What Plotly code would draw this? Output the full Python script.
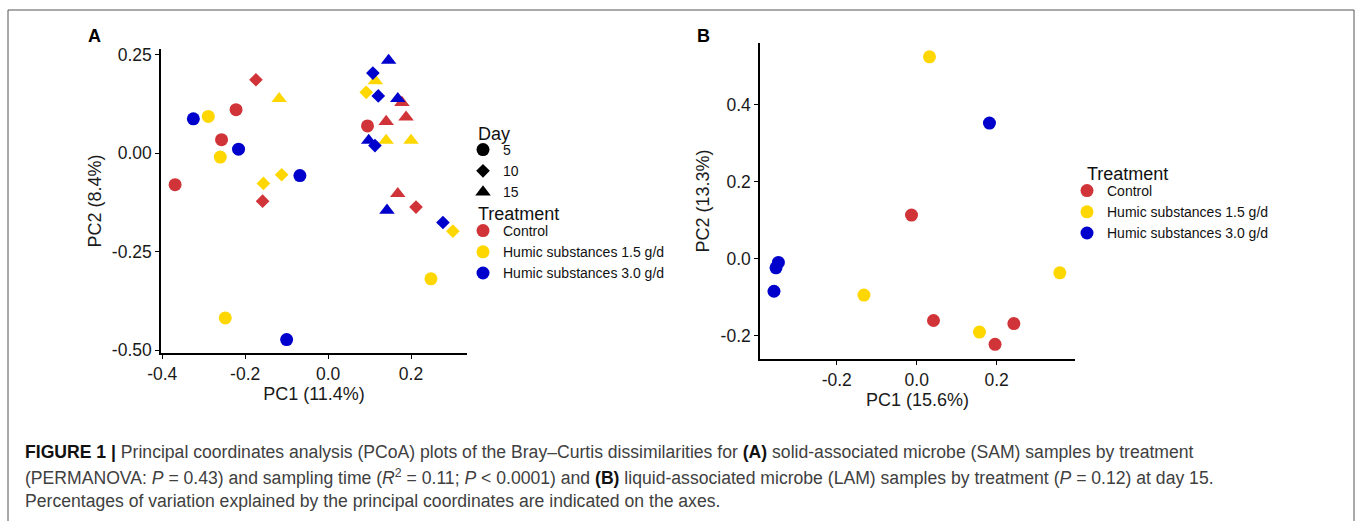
import plotly.graph_objects as go

W, H = 1357, 521

# ---------------- Data ----------------
treatments = ["Control", "Humic substances 1.5 g/d", "Humic substances 3.0 g/d"]
treatment_colors = ["#D13438", "#FFD700", "#0000CD"]
days = [5, 10, 15]
day_symbols = ["circle", "diamond", "triangle-up"]
day_sizes = [13, 10.5, 13.5]

# Panel A: solid-associated microbes (SAM)
sam_treatment = (["Control"] * 11
                 + ["Humic substances 1.5 g/d"] * 12
                 + ["Humic substances 3.0 g/d"] * 12)
sam_day = ([5, 5, 5, 5, 10, 10, 10, 15, 15, 15, 15]
           + [5, 5, 5, 5, 10, 10, 10, 10, 15, 15, 15, 15]
           + [5, 5, 5, 5, 10, 10, 10, 10, 15, 15, 15, 15])
sam_pc1 = [-0.369, -0.257, -0.222, 0.095, -0.174, -0.158, 0.212, 0.140, 0.178, 0.188, 0.168,
           -0.289, -0.260, -0.248, 0.248, -0.156, -0.112, 0.092, 0.301, -0.118, 0.114, 0.140, 0.200,
           -0.325, -0.216, -0.068, -0.100, 0.108, 0.121, 0.113, 0.277, 0.146, 0.168, 0.098, 0.142]
sam_pc2 = [-0.080, 0.034, 0.110, 0.069, 0.186, -0.122, -0.137, 0.080, 0.128, 0.091, -0.103,
           0.093, -0.010, -0.418, -0.319, -0.077, -0.055, 0.154, -0.198, 0.138, 0.183, 0.032, 0.032,
           0.087, 0.010, -0.057, -0.473, 0.203, 0.145, 0.019, -0.176, 0.235, 0.138, 0.032, -0.145]

# Panel B: liquid-associated microbes (LAM), day 15
lam_treatment = (["Control"] * 4 + ["Humic substances 1.5 g/d"] * 4
                 + ["Humic substances 3.0 g/d"] * 4)
lam_pc1 = [-0.013, 0.042, 0.243, 0.196,
           0.032, -0.132, 0.157, 0.358,
           0.182, -0.346, -0.352, -0.357]
lam_pc2 = [0.113, -0.161, -0.169, -0.223,
           0.524, -0.095, -0.191, -0.037,
           0.352, -0.010, -0.024, -0.085]

a_xticks = [-0.4, -0.2, 0.0, 0.2]
a_xticktext = ["-0.4", "-0.2", "0.0", "0.2"]
a_yticks = [0.25, 0.0, -0.25, -0.5]
a_yticktext = ["0.25", "0.00", "-0.25", "-0.50"]
b_xticks = [-0.2, 0.0, 0.2]
b_xticktext = ["-0.2", "0.0", "0.2"]
b_yticks = [-0.2, 0.0, 0.2, 0.4]
b_yticktext = ["-0.2", "0.0", "0.2", "0.4"]

# ---------------- Figure ----------------
FONT = "Liberation Sans, Arial, sans-serif"
fig = go.Figure()

def px(x):
    return x / W

def py(y):
    return 1 - y / H

# Panel A points
for t, col in zip(treatments, treatment_colors):
    for d, sym, sz in zip(days, day_symbols, day_sizes):
        xs = [x for x, tt, dd in zip(sam_pc1, sam_treatment, sam_day) if tt == t and dd == d]
        ys = [y for y, tt, dd in zip(sam_pc2, sam_treatment, sam_day) if tt == t and dd == d]
        fig.add_trace(go.Scatter(x=xs, y=ys, mode="markers", xaxis="x", yaxis="y",
                                 marker=dict(symbol=sym, size=sz, color=col, line=dict(width=0)),
                                 showlegend=False, name=f"{t}, day {d}"))

# Panel B points
for t, col in zip(treatments, treatment_colors):
    xs = [x for x, tt in zip(lam_pc1, lam_treatment) if tt == t]
    ys = [y for y, tt in zip(lam_pc2, lam_treatment) if tt == t]
    fig.add_trace(go.Scatter(x=xs, y=ys, mode="markers", xaxis="x2", yaxis="y2",
                             marker=dict(symbol="circle", size=13, color=col, line=dict(width=0)),
                             showlegend=False, name=t))

# Legend entries
for d, sym, sz in zip(days, day_symbols, day_sizes):
    fig.add_trace(go.Scatter(x=[None], y=[None], mode="markers", xaxis="x", yaxis="y",
                             marker=dict(symbol=sym, size=sz, color="black"),
                             name=str(d), legend="legend", showlegend=True))
for t, col in zip(treatments, treatment_colors):
    fig.add_trace(go.Scatter(x=[None], y=[None], mode="markers", xaxis="x", yaxis="y",
                             marker=dict(symbol="circle", size=13, color=col),
                             name=t, legend="legend2", showlegend=True))
for t, col in zip(treatments, treatment_colors):
    fig.add_trace(go.Scatter(x=[None], y=[None], mode="markers", xaxis="x2", yaxis="y2",
                             marker=dict(symbol="circle", size=13, color=col),
                             name=t, legend="legend3", showlegend=True))

axis_common = dict(showgrid=False, zeroline=False, showline=True, linecolor="black",
                   linewidth=1.5, ticks="outside", ticklen=4, tickwidth=1.2,
                   tickcolor="black", tickfont=dict(family=FONT, size=17.5, color="#1a1a1a"),
                   title_font=dict(family=FONT, size=18, color="#1a1a1a"))

leg_common = dict(font=dict(family=FONT, size=14, color="#111"), bgcolor="rgba(0,0,0,0)",
                  xanchor="left", yanchor="middle", tracegroupgap=0, itemsizing="trace",
                  borderwidth=0)

fig.update_layout(
    width=W, height=H, margin=dict(l=0, r=0, t=0, b=0, autoexpand=False),
    paper_bgcolor="white", plot_bgcolor="white",
    font=dict(family=FONT),
    xaxis=dict(domain=[px(161), px(467)], range=[-0.403, 0.335],
               tickvals=a_xticks, ticktext=a_xticktext, automargin=False,
               title=dict(text="PC1 (11.4%)", standoff=2), anchor="y", **axis_common),
    yaxis=dict(domain=[py(353), py(49)], range=[-0.507, 0.264],
               tickvals=a_yticks, ticktext=a_yticktext, automargin=False,
               title=dict(text="PC2 (8.4%)", standoff=6), anchor="x", **axis_common),
    xaxis2=dict(domain=[px(760), px(1075)], range=[-0.392, 0.396],
                tickvals=b_xticks, ticktext=b_xticktext, automargin=False,
                title=dict(text="PC1 (15.6%)", standoff=2), anchor="y2", **axis_common),
    yaxis2=dict(domain=[py(359), py(43)], range=[-0.261, 0.560],
                tickvals=b_yticks, ticktext=b_yticktext, automargin=False,
                title=dict(text="PC2 (13.3%)", standoff=6), anchor="x2", **axis_common),
    legend=dict(x=px(463), y=py(171), **leg_common),
    legend2=dict(x=px(463), y=py(252), **leg_common),
    legend3=dict(x=px(1067), y=py(212), **leg_common),
)

annotations = [
    dict(text="<b>A</b>", x=px(94), y=py(36), font=dict(size=18, color="black"), xanchor="center"),
    dict(text="<b>B</b>", x=px(703), y=py(36), font=dict(size=18, color="black"), xanchor="center"),
    dict(text="Day", x=px(476), y=py(134), font=dict(size=18, color="#111"), xanchor="left"),
    dict(text="Treatment", x=px(476), y=py(214), font=dict(size=18, color="#111"), xanchor="left"),
    dict(text="Treatment", x=px(1085), y=py(174), font=dict(size=18, color="#111"), xanchor="left"),
]
cap_lines = [
    "<b style='color:#111'>FIGURE 1 |</b> Principal coordinates analysis (PCoA) plots of the Bray–Curtis dissimilarities for <b style='color:#111'>(A)</b> solid-associated microbe (SAM) samples by treatment",
    "(PERMANOVA: <i>P</i> = 0.43) and sampling time (<i>R</i><sup>2</sup> = 0.11; <i>P</i> &lt; 0.0001) and <b style='color:#111'>(B)</b> liquid-associated microbe (LAM) samples by treatment (<i>P</i> = 0.12) at day 15.",
    "Percentages of variation explained by the principal coordinates are indicated on the axes.",
]
for txt, yy in zip(cap_lines, [452, 477, 501]):
    annotations.append(dict(text=txt, x=px(23), y=py(yy), xanchor="left",
                            font=dict(size=17.6, color="#404040")))
for a in annotations:
    a.setdefault("xref", "paper")
    a.setdefault("yref", "paper")
    a.setdefault("showarrow", False)
    a.setdefault("yanchor", "middle")
    a["font"]["family"] = FONT
fig.update_layout(annotations=annotations)

fig.update_layout(shapes=[
    dict(type="line", xref="paper", yref="paper", x0=px(8), x1=px(8), y0=py(10), y1=0,
         line=dict(color="#555", width=1)),
    dict(type="line", xref="paper", yref="paper", x0=px(1354), x1=px(1354), y0=py(10), y1=0,
         line=dict(color="#555", width=1)),
    dict(type="line", xref="paper", yref="paper", x0=px(8), x1=px(1354), y0=py(10), y1=py(10),
         line=dict(color="#555", width=1)),
])

post = ("document.documentElement.style.margin='0';"
        "document.documentElement.style.overflow='hidden';"
        "document.body.style.margin='0';"
        "document.body.style.padding='0';"
        "document.body.style.overflow='hidden';")
fig.write_html("out.html", config={"displayModeBar": False}, post_script=post)
